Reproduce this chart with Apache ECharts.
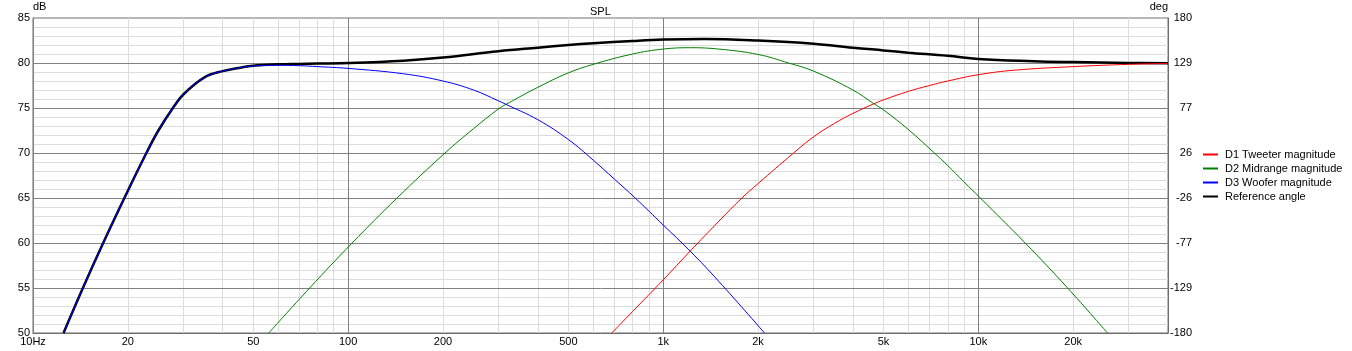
<!DOCTYPE html>
<html>
<head>
<meta charset="utf-8">
<script src="https://cdn.jsdelivr.net/npm/echarts@6/dist/echarts.min.js"></script>
<style>
  html, body { margin: 0; padding: 0; background: #fff; }
  #chart { width: 1352px; height: 351px; }
</style>
</head>
<body>
<div id="chart"></div>
<script>
// frequency grid / labels
const xMinorLines = [20, 30, 40, 50, 60, 70, 80, 90, 200, 300, 400, 500, 600, 700, 800, 900,
  2000, 3000, 4000, 5000, 6000, 7000, 8000, 9000, 20000, 30000]
const xMajorLines = [10, 100, 1000, 10000]
const xLabelValues = [10, 20, 50, 100, 200, 500, 1000, 2000, 5000, 10000, 20000]
const xLabelTexts = ['10Hz', '20', '50', '100', '200', '500', '1k', '2k', '5k', '10k', '20k']
const yMajorLines = [55, 60, 65, 70, 75, 80]
const degLabels = ['-180', '-129', '-77', '-26', '26', '77', '129', '180']

// D1 tweeter
const tweeterFreq = [687, 800, 1000, 1218, 1500, 1777, 2000, 2593, 3000, 3500, 4000, 4650, 5000, 6000, 7000, 8000, 10000, 13000, 20000, 30000, 40000]
const tweeterDb = [50, 52.4, 55.9, 59.1, 62.4, 65, 66.6, 70, 71.8, 73.3, 74.4, 75.45, 75.9, 76.85, 77.5, 78.0, 78.7, 79.2, 79.6, 79.85, 79.95]

// D2 midrange
const midFreq = [56, 75.5, 103, 143, 203, 250, 300, 315, 400, 500, 600, 800, 1000, 1220, 1500, 2000, 2500, 3000, 4000, 4650, 5000, 6000, 7200, 8000, 9000, 10150, 14090, 19210, 25700]
const midDb = [50, 55, 60, 65, 70, 72.7, 74.9, 75.35, 77.3, 78.9, 79.85, 81.0, 81.55, 81.7, 81.55, 80.95, 80.0, 79.1, 77.0, 75.5, 74.8, 72.6, 70.1, 68.6, 66.8, 65, 60, 55, 50]

// D3 woofer
const woofFreq = [12.5, 14.4, 16.7, 19.5, 22.9, 25, 27.8, 30, 35, 40, 45, 50, 60, 70, 80, 100, 150, 200, 250, 300, 315, 400, 500, 600, 700, 815, 1000, 1218, 1500, 2097]
const woofDb = [50, 55, 60, 65, 70, 72.5, 75, 76.5, 78.4, 79.1, 79.45, 79.65, 79.75, 79.7, 79.6, 79.4, 78.8, 78.0, 77.0, 75.8, 75.45, 73.7, 71.5, 69.2, 67.1, 65, 62.0, 59.1, 55.75, 50]

// reference (sum)
const refFreq = [12.5, 14.4, 16.7, 19.5, 22.9, 25, 27.8, 30, 35, 40, 45, 50, 60, 70, 100, 150, 200, 300, 400, 500, 600, 800, 1000, 1350, 2000, 3000, 4000, 5000, 6000, 8000, 10000, 15000, 20000, 30000, 40000]
const refDb = [50, 55, 60, 65, 70, 72.5, 75, 76.5, 78.4, 79.1, 79.45, 79.7, 79.85, 79.9, 80.0, 80.25, 80.6, 81.3, 81.7, 82.0, 82.2, 82.45, 82.6, 82.67, 82.5, 82.15, 81.7, 81.4, 81.15, 80.8, 80.45, 80.2, 80.1, 80.0, 79.97]

const FONT = 'Liberation Sans'
const labelOf = function (v) {
  const i = xLabelValues.indexOf(v)
  return i >= 0 ? xLabelTexts[i] : null
}

const pairs = function (xs, ys) {
  return xs.map((x, i) => [x, ys[i]])
}

const vLine = function (v, color) {
  const txt = labelOf(v)
  return {
    xAxis: v,
    lineStyle: {color: color, width: 1, type: 'solid'},
    label: {
      show: txt != null,
      position: 'start',
      formatter: txt || '',
      color: '#000',
      fontSize: 11,
      fontFamily: FONT,
      distance: 3
    }
  }
}

const hLine = function (v, color) {
  return {yAxis: v, lineStyle: {color: color, width: 1, type: 'solid'}, label: {show: false}}
}

const curve = function (name, xs, ys, color, width, z) {
  return {
    name: name,
    type: 'line',
    data: pairs(xs, ys),
    symbol: 'none',
    showSymbol: false,
    smooth: 0.4,
    color: color,
    lineStyle: {color: color, width: width},
    itemStyle: {color: color},
    z: z,
    silent: true
  }
}

const chart = echarts.init(document.getElementById('chart'))
chart.setOption({
  animation: false,
  backgroundColor: '#fff',
  title: {
    text: 'SPL',
    left: 585,
    top: 1,
    textStyle: {fontSize: 11, fontWeight: 'normal', color: '#000', fontFamily: FONT}
  },
  legend: {
    orient: 'vertical',
    left: 1202,
    top: 149,
    padding: 0,
    itemWidth: 15,
    itemHeight: 11,
    itemGap: 3,
    itemStyle: {opacity: 0},
    data: ['D1 Tweeter magnitude', 'D2 Midrange magnitude', 'D3 Woofer magnitude', 'Reference angle'],
    textStyle: {fontSize: 11, color: '#000', fontFamily: FONT, padding: [0, 0, 0, 2]}
  },
  grid: {
    left: 33,
    right: 184,
    top: 18,
    bottom: 18,
    show: true,
    borderColor: '#6e6e6e',
    borderWidth: 1
  },
  xAxis: {
    type: 'log',
    logBase: 10,
    min: 10,
    max: 40000,
    axisLine: {show: true, lineStyle: {color: '#6e6e6e'}},
    axisTick: {show: false},
    axisLabel: {show: false},
    splitLine: {show: false}
  },
  yAxis: [
    {
      type: 'value',
      min: 50,
      max: 85,
      interval: 5,
      name: 'dB',
      nameLocation: 'end',
      nameGap: 3,
      nameTextStyle: {align: 'left', fontSize: 11, color: '#000', fontFamily: FONT},
      axisLine: {show: true, lineStyle: {color: '#6e6e6e'}},
      axisTick: {show: false},
      axisLabel: {fontSize: 11, color: '#000', fontFamily: FONT, margin: 3},
      splitLine: {show: false},
      minorTick: {show: false, splitNumber: 5},
      minorSplitLine: {show: true, lineStyle: {color: '#dcdcdc', width: 1}}
    },
    {
      type: 'value',
      position: 'right',
      min: 0,
      max: 7,
      interval: 1,
      name: 'deg',
      nameLocation: 'end',
      nameGap: 3,
      nameTextStyle: {align: 'right', fontSize: 11, color: '#000', fontFamily: FONT},
      axisLine: {show: true, lineStyle: {color: '#6e6e6e'}},
      axisTick: {show: false},
      axisLabel: {
        fontSize: 11, color: '#000', fontFamily: FONT, margin: 24, align: 'right',
        formatter: function (v) { return degLabels[Math.round(v)] }
      },
      splitLine: {show: false}
    }
  ],
  series: [
    {
      name: 'minor-grid',
      type: 'line',
      data: [],
      silent: true,
      z: 0,
      markLine: {
        silent: true,
        symbol: ['none', 'none'],
        animation: false,
        z: 0,
        data: xMinorLines.map(v => vLine(v, '#dcdcdc'))
      }
    },
    {
      name: 'major-grid',
      type: 'line',
      data: [],
      silent: true,
      z: 1,
      markLine: {
        silent: true,
        symbol: ['none', 'none'],
        animation: false,
        z: 1,
        data: xMajorLines.map(v => vLine(v, '#808080')).concat(yMajorLines.map(v => hLine(v, '#808080')))
      }
    },
    curve('Reference angle', refFreq, refDb, '#000000', 2.5, 3),
    curve('D1 Tweeter magnitude', tweeterFreq, tweeterDb, '#ff0000', 1, 4),
    curve('D2 Midrange magnitude', midFreq, midDb, '#008000', 1, 4),
    curve('D3 Woofer magnitude', woofFreq, woofDb, '#0000ff', 1, 4)
  ]
})
</script>
</body>
</html>
